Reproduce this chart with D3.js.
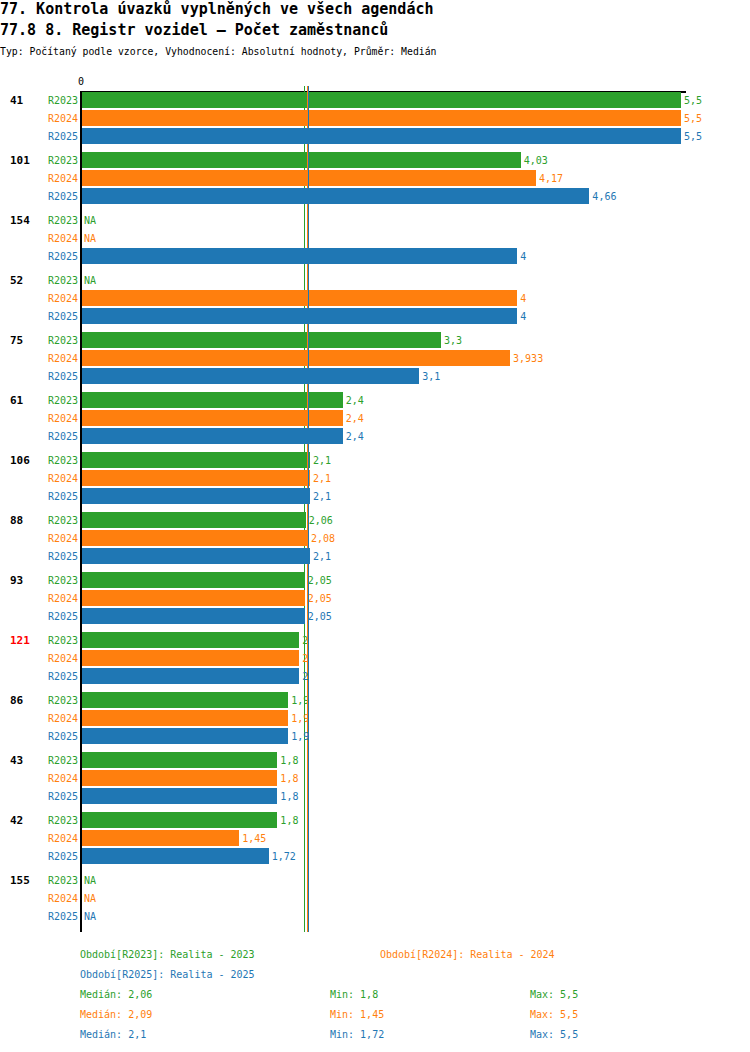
<!DOCTYPE html>
<html>
<head>
<meta charset="utf-8">
<script src="https://cdn.jsdelivr.net/npm/d3@7"></script>
<style>
  body { margin: 0; background: #fff; }
  svg text { font-family: "DejaVu Sans Mono", "Liberation Mono", monospace; }
  svg line, svg rect { shape-rendering: crispEdges; }
</style>
</head>
<body>
<svg></svg>
<script>
// data
var groups = ['41', '101', '154', '52', '75', '61', '106', '88', '93', '121', '86', '43', '42', '155']
var series = ['R2023', 'R2024', 'R2025']
var r2023 = [5.5, 4.03, null, null, 3.3, 2.4, 2.1, 2.06, 2.05, 2, 1.9, 1.8, 1.8, null]
var r2024 = [5.5, 4.17, null, 4, 3.933, 2.4, 2.1, 2.08, 2.05, 2, 1.9, 1.8, 1.45, null]
var r2025 = [5.5, 4.66, 4, 4, 3.1, 2.4, 2.1, 2.1, 2.05, 2, 1.9, 1.8, 1.72, null]
var seriesNames = ['Realita - 2023', 'Realita - 2024', 'Realita - 2025']
var highlighted = '121'
var maxValue = 5.5

var values = [r2023, r2024, r2025]
var colors = ['#2ca02c', '#ff7f0e', '#1f77b4']

var svgWidth = 750, svgHeight = 1052

var svg = d3.select('svg')
    .attr('width', svgWidth)
    .attr('height', svgHeight)

var fmt = function(v) { return String(v).replace('.', ',') }

// titles
svg.append('text').attr('x', 0).attr('y', 13.5)
    .style('font-size', '15px').style('font-weight', 'bold')
    .text('77. Kontrola úvazků vyplněných ve všech agendách')
svg.append('text').attr('x', 0).attr('y', 35)
    .style('font-size', '15px').style('font-weight', 'bold')
    .text('77.8 8. Registr vozidel – Počet zaměstnanců')
svg.append('text').attr('x', 0).attr('y', 54.5)
    .style('font-size', '9.8px')
    .text('Typ: Počítaný podle vzorce, Vyhodnocení: Absolutní hodnoty, Průměr: Medián')

// scales
var x = d3.scaleLinear().domain([0, maxValue]).range([81, 681])
var y = d3.scaleBand().domain(groups).range([92, 92 + groups.length * 60])
var yInner = d3.scaleBand().domain(series).range([0, 52]).paddingInner(2 / 18).paddingOuter(0)

// top line + zero label
svg.append('line')
    .attr('x1', x(0) - 1).attr('x2', x(maxValue) + 5)
    .attr('y1', y.range()[0]).attr('y2', y.range()[0])
    .attr('stroke', '#000').attr('stroke-width', 1.5)
svg.append('text').attr('x', x(0)).attr('y', 84.5)
    .attr('text-anchor', 'middle').style('font-size', '10px')
    .text('0')

// group labels
svg.selectAll('.glabel')
    .data(groups)
    .enter()
    .append('text')
    .attr('class', 'glabel')
    .attr('x', 10)
    .attr('y', function(d) { return y(d) + yInner.bandwidth() / 2 + 4 })
    .style('font-size', '11px')
    .style('font-weight', 'bold')
    .style('fill', function(d) { return d === highlighted ? '#ff0000' : '#000' })
    .text(function(d) { return d })

// medians, drawn before each series' bars so later bars hide them
series.forEach(function(s, si) {
    var vals = values[si]
    var med = d3.median(vals.filter(function(v) { return v != null }))
    var mx = Math.round(x(med)) - 1.5
    svg.append('line')
        .attr('x1', mx).attr('x2', mx)
        .attr('y1', y.range()[0] - 6).attr('y2', y.range()[1])
        .attr('stroke', colors[si]).attr('stroke-width', 1)

    var rows = groups.map(function(g, gi) { return { g: g, v: vals[gi] } })

    svg.selectAll('.bar' + si)
        .data(rows.filter(function(d) { return d.v != null }))
        .enter()
        .append('rect')
        .attr('x', x(0))
        .attr('y', function(d) { return y(d.g) + yInner(s) })
        .attr('width', function(d) { return x(d.v) - x(0) })
        .attr('height', yInner.bandwidth())
        .style('fill', colors[si])

    // series labels on the left
    svg.selectAll('.slabel' + si)
        .data(rows)
        .enter()
        .append('text')
        .attr('x', 78)
        .attr('y', function(d) { return y(d.g) + yInner(s) + yInner.bandwidth() / 2 + 4 })
        .attr('text-anchor', 'end')
        .style('font-size', '10px')
        .style('fill', colors[si])
        .text(s)

    // value labels
    svg.selectAll('.vlabel' + si)
        .data(rows)
        .enter()
        .append('text')
        .attr('x', function(d) { return d.v == null ? x(0) + 3 : x(d.v) + 3 })
        .attr('y', function(d) { return y(d.g) + yInner(s) + yInner.bandwidth() / 2 + 4 })
        .style('font-size', '10px')
        .style('fill', colors[si])
        .text(function(d) { return d.v == null ? 'NA' : fmt(d.v) })
})

// vertical axis
svg.append('line')
    .attr('x1', 81).attr('x2', 81)
    .attr('y1', y.range()[0]).attr('y2', y.range()[1])
    .attr('stroke', '#000').attr('stroke-width', 2)

// legend
var legendPos = [[80, 958], [380, 958], [80, 978]]
series.forEach(function(s, si) {
    svg.append('text')
        .attr('x', legendPos[si][0]).attr('y', legendPos[si][1])
        .style('font-size', '10px').style('fill', colors[si])
        .text('Období[' + s + ']: ' + seriesNames[si])
})

// stats
series.forEach(function(s, si) {
    var vals = values[si].filter(function(v) { return v != null })
    var yy = 998 + si * 20
    var stats = [
        [80, 'Medián: ' + fmt(+d3.median(vals).toFixed(3))],
        [330, 'Min: ' + fmt(d3.min(vals))],
        [530, 'Max: ' + fmt(d3.max(vals))]
    ]
    stats.forEach(function(st) {
        svg.append('text')
            .attr('x', st[0]).attr('y', yy)
            .style('font-size', '10px').style('fill', colors[si])
            .text(st[1])
    })
})
</script>
</body>
</html>
